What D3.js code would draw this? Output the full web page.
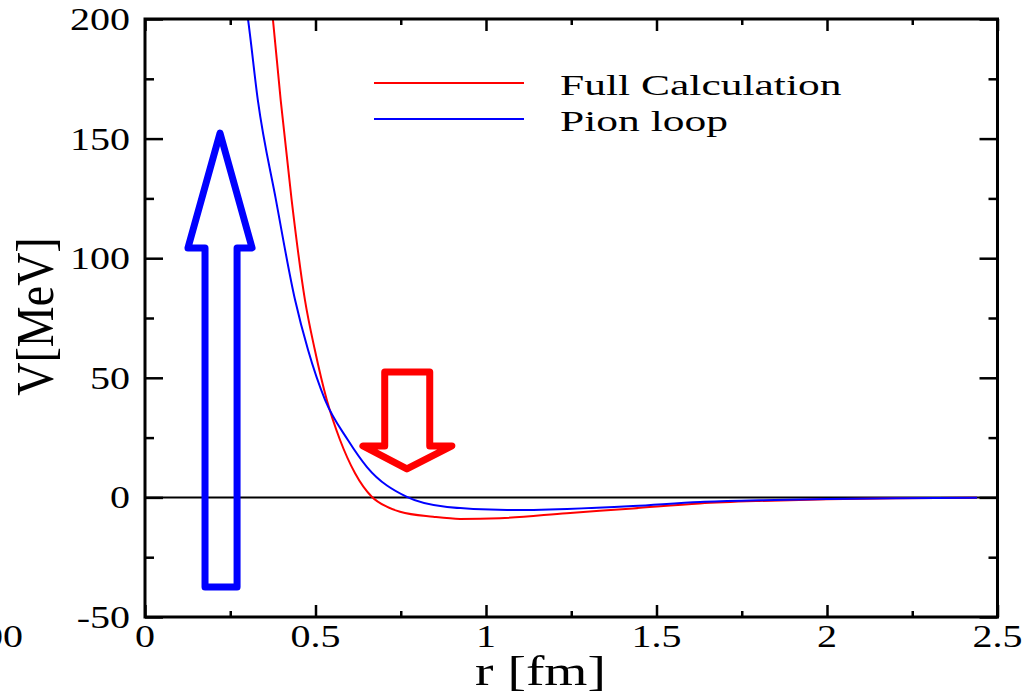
<!DOCTYPE html>
<html>
<head>
<meta charset="utf-8">
<script src="https://cdn.jsdelivr.net/npm/d3@7"></script>
<style>
  html, body { margin: 0; padding: 0; background: #fff; }
  svg { display: block; }
  text { font-family: "Liberation Serif", "Times New Roman", serif; fill: #000; }
</style>
</head>
<body>
<svg id="chart" width="1034" height="695"></svg>
<script>
// r in fm, V in MeV
const fullR = [0.360, 0.375, 0.398, 0.430, 0.469, 0.498, 0.533, 0.572, 0.616, 0.665, 0.709, 0.748, 0.845, 0.924, 1.041, 1.237, 1.431, 1.627, 1.800, 2.000, 2.200, 2.440];
const fullV = [220, 200, 166, 124.4, 82.6, 61.7, 40.8, 24.0, 10.1, 0.3, -3.9, -6.0, -8.1, -9.0, -8.7, -6.6, -4.6, -2.5, -1.5, -0.8, -0.35, -0.1];

const pionR = [0.285, 0.302, 0.331, 0.384, 0.440, 0.478, 0.528, 0.595, 0.651, 0.768, 0.886, 1.062, 1.238, 1.431, 1.628, 1.800, 2.000, 2.200, 2.440];
const pionV = [216, 200, 166, 124.4, 82.6, 61.7, 40.8, 24.0, 12.7, 0.2, -4.0, -5.3, -4.8, -3.6, -1.9, -1.2, -0.7, -0.35, -0.1];

const seriesNames = ["Full Calculation", "Pion loop"];
const seriesColors = ["#ff0000", "#0000ff"];

const xMajorTicks = [0, 0.5, 1, 1.5, 2, 2.5];
const xTickLabels = ["0", "0.5", "1", "1.5", "2", "2.5"];
const yMajorTicks = [-50, 0, 50, 100, 150, 200];
const yTickLabels = ["-50", "0", "50", "100", "150", "200"];

// outline arrows, in (r, V) units
const upArrow = [[0.220, 152.3], [0.314, 104.3], [0.270, 104.3], [0.270, -37.5], [0.176, -37.5], [0.176, 104.3], [0.126, 104.3]];
const downArrow = [[0.703, 52.4], [0.835, 52.4], [0.835, 21.5], [0.900, 21.5], [0.768, 11.9], [0.639, 21.5], [0.703, 21.5]];

const svg = d3.select("#chart");
const L = 145, R = 997.5, T = 19, B = 617;
const x = d3.scaleLinear().domain([0, 2.5]).range([L, R]);
const y = d3.scaleLinear().domain([-50, 200]).range([B, T]);

svg.append("defs").append("clipPath").attr("id", "plotclip")
  .append("rect").attr("x", L).attr("y", T).attr("width", R - L).attr("height", B - T);

// zero line
svg.append("line")
  .attr("x1", x(0)).attr("x2", x(2.5)).attr("y1", y(0)).attr("y2", y(0))
  .attr("stroke", "#000").attr("stroke-width", 2);

// curves
const line = d3.line().x(d => x(d[0])).y(d => y(d[1])).curve(d3.curveMonotoneX);
const series = [d3.zip(fullR, fullV), d3.zip(pionR, pionV)];
const plot = svg.append("g").attr("clip-path", "url(#plotclip)");
series.forEach((pts, i) => {
  plot.append("path").datum(pts)
    .attr("d", line)
    .attr("fill", "none")
    .attr("stroke", seriesColors[i])
    .attr("stroke-width", 2);
});

// arrows
const poly = d3.line().x(d => x(d[0])).y(d => y(d[1])).curve(d3.curveLinearClosed);
svg.append("path").datum(upArrow).attr("d", poly)
  .attr("fill", "none").attr("stroke", "#0000ff").attr("stroke-width", 7)
  .attr("stroke-linejoin", "round");
svg.append("path").datum(downArrow).attr("d", poly)
  .attr("fill", "none").attr("stroke", "#ff0000").attr("stroke-width", 7)
  .attr("stroke-linejoin", "round");

// ticks (inward) on all four sides
const xMinor = d3.range(0.25, 2.5, 0.5);
const yMinor = d3.range(-25, 200, 50);
const tickStyle = g => g.call(s => s.select(".domain").remove())
  .selectAll("line").attr("stroke", "#000").attr("stroke-width", 2.5);

svg.append("g").attr("transform", `translate(0,${B})`)
  .call(d3.axisBottom(x).tickValues(xMajorTicks).tickSize(-12).tickFormat(""))
  .call(tickStyle);
svg.append("g").attr("transform", `translate(0,${B})`)
  .call(d3.axisBottom(x).tickValues(xMinor).tickSize(-6).tickFormat(""))
  .call(tickStyle);
svg.append("g").attr("transform", `translate(0,${T})`)
  .call(d3.axisTop(x).tickValues(xMajorTicks).tickSize(-12).tickFormat(""))
  .call(tickStyle);
svg.append("g").attr("transform", `translate(0,${T})`)
  .call(d3.axisTop(x).tickValues(xMinor).tickSize(-6).tickFormat(""))
  .call(tickStyle);
svg.append("g").attr("transform", `translate(${L},0)`)
  .call(d3.axisLeft(y).tickValues(yMajorTicks).tickSize(-18).tickFormat(""))
  .call(tickStyle);
svg.append("g").attr("transform", `translate(${L},0)`)
  .call(d3.axisLeft(y).tickValues(yMinor).tickSize(-9).tickFormat(""))
  .call(tickStyle);
svg.append("g").attr("transform", `translate(${R},0)`)
  .call(d3.axisRight(y).tickValues(yMajorTicks).tickSize(-18).tickFormat(""))
  .call(tickStyle);
svg.append("g").attr("transform", `translate(${R},0)`)
  .call(d3.axisRight(y).tickValues(yMinor).tickSize(-9).tickFormat(""))
  .call(tickStyle);

// frame
svg.append("rect").attr("x", L).attr("y", T).attr("width", R - L).attr("height", B - T)
  .attr("fill", "none").attr("stroke", "#000").attr("stroke-width", 3);

// tick labels (wide serif)
const tickFont = 32, tickSX = 1.25;
xMajorTicks.forEach((v, i) => {
  svg.append("text")
    .attr("transform", `translate(${x(v)},647) scale(${tickSX},1)`)
    .attr("text-anchor", "middle").attr("font-size", tickFont)
    .text(xTickLabels[i]);
});
yMajorTicks.forEach((v, i) => {
  svg.append("text")
    .attr("transform", `translate(130,${y(v) + 11}) scale(${tickSX},1)`)
    .attr("text-anchor", "end").attr("font-size", tickFont)
    .text(yTickLabels[i]);
});
// label of the neighbouring panel, cut by the left edge
svg.append("text")
  .attr("transform", `translate(23,647) scale(${tickSX},1)`)
  .attr("text-anchor", "end").attr("font-size", tickFont)
  .text("100");

// axis titles
svg.append("text")
  .attr("transform", "translate(540.5,685) scale(1.32,1)")
  .attr("text-anchor", "middle").attr("font-size", 42)
  .text("r [fm]");
svg.append("text")
  .attr("transform", "translate(53,316.5) rotate(-90) scale(1,1.16)")
  .attr("text-anchor", "middle").attr("font-size", 46)
  .text("V[MeV]");

// legend
const legY = [83, 119];
seriesNames.forEach((name, i) => {
  svg.append("line")
    .attr("x1", 374).attr("x2", 524).attr("y1", legY[i]).attr("y2", legY[i])
    .attr("stroke", seriesColors[i]).attr("stroke-width", 2);
  svg.append("text")
    .attr("transform", `translate(560,${legY[i] + 12}) scale(1.45,1)`)
    .attr("font-size", 30)
    .text(name);
});
</script>
</body>
</html>
